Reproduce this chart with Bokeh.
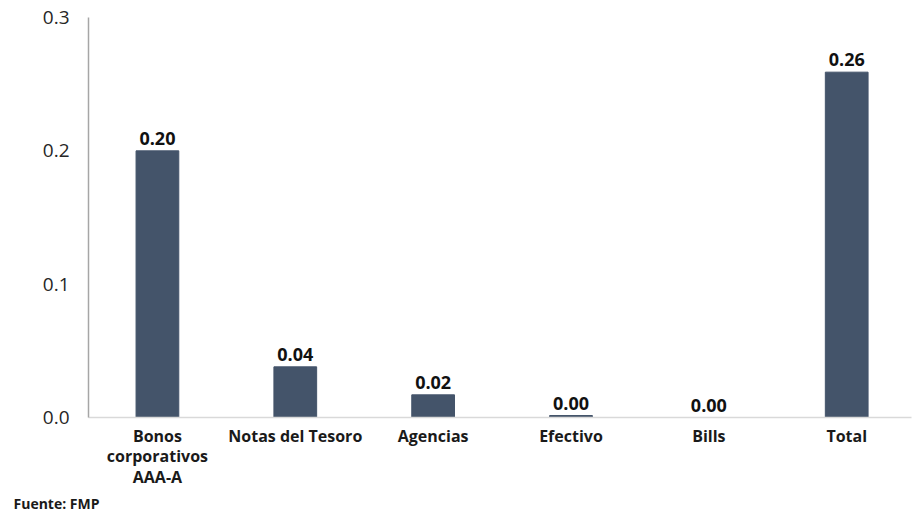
from bokeh.plotting import figure
from bokeh.models import ColumnDataSource, FixedTicker, Range1d, Title, LabelSet
from bokeh.core.properties import value
from bokeh.embed import file_html
from bokeh.resources import INLINE

categories = ["Bonos\ncorporativos\nAAA-A", "Notas del Tesoro", "Agencias", "Efectivo", "Bills", "Total"]
values = [0.200, 0.038, 0.017, 0.0015, 0.0, 0.259]
value_labels = ["0.20", "0.04", "0.02", "0.00", "0.00", "0.26"]
y_ticks = [0.0, 0.1, 0.2, 0.3]
source_note = "Fuente: FMP"

FONT = "Open Sans"
BAR = "#44546A"

xs = list(range(len(categories)))
src = ColumnDataSource(dict(x=xs, top=values, lab=value_labels))

p = figure(width=913, height=512, output_backend="svg", toolbar_location=None,
           x_range=Range1d(-0.5, 5.47), y_range=Range1d(0, 0.3),
           min_border_left=88, min_border_top=17, min_border_bottom=80, min_border_right=2)
p.outline_line_color = None
p.xgrid.grid_line_color = None
p.ygrid.grid_line_color = None

p.vbar(x="x", top="top", width=0.31, source=src, fill_color=BAR, line_color=BAR)

labels = LabelSet(x="x", y="top", text="lab", source=src, text_align="center",
                  text_baseline="bottom", y_offset=6, text_font=value(FONT),
                  text_font_style="bold", text_font_size="18px", text_color="#111111")
p.add_layout(labels)

p.xaxis.ticker = FixedTicker(ticks=xs)
p.xaxis.major_label_overrides = {i: c for i, c in enumerate(categories)}
p.xaxis.major_tick_line_color = None
p.xaxis.minor_tick_line_color = None
p.xaxis.axis_line_color = "#d9d9d9"
p.xaxis.axis_line_width = 1.5
p.xaxis.major_label_text_font = FONT
p.xaxis.major_label_text_font_style = "bold"
p.xaxis.major_label_text_font_size = "16px"
p.xaxis.major_label_text_color = "#1a1a1a"
p.xaxis.major_label_text_line_height = 0.95
p.xaxis.major_label_standoff = 1

p.yaxis.ticker = FixedTicker(ticks=y_ticks)
p.yaxis.major_label_overrides = {t: f"{t:.1f}" for t in y_ticks}
p.yaxis.major_tick_line_color = None
p.yaxis.minor_tick_line_color = None
p.yaxis.axis_line_color = "#a6a6a6"
p.yaxis.axis_line_width = 1.5
p.yaxis.major_label_text_font = FONT
p.yaxis.major_label_text_font_size = "19px"
p.yaxis.major_label_text_color = "#262626"
p.yaxis.major_label_standoff = 13

note = Title(text=source_note, align="left", text_font=FONT, text_font_style="bold",
             text_font_size="14px", text_color="#1a1a1a", offset=-75, standoff=0,
             text_line_height=0.8)
p.add_layout(note, "below")

open("out.html", "w").write(file_html(p, INLINE))
